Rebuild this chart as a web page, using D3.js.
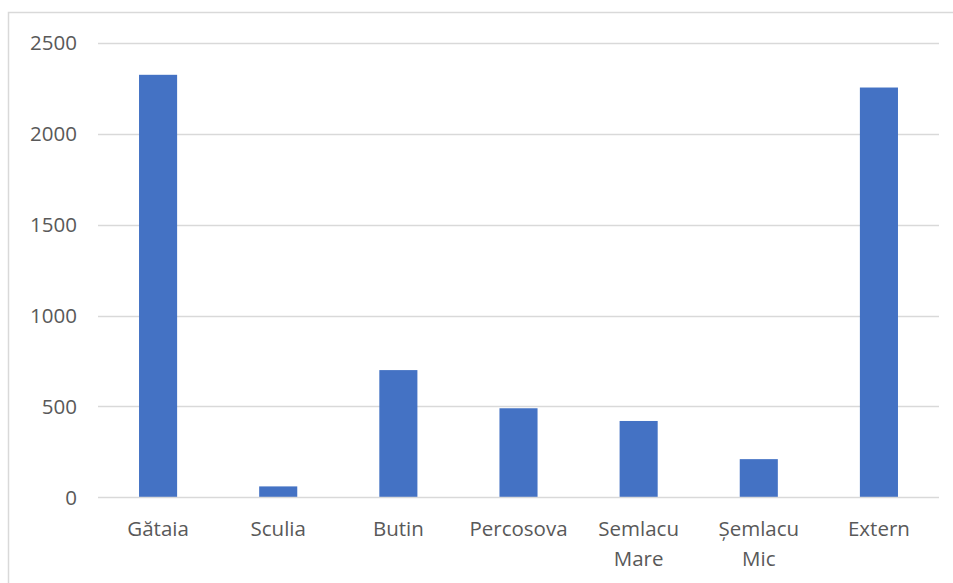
<!DOCTYPE html>
<html>
<head>
<meta charset="utf-8">
<script src="https://cdn.jsdelivr.net/npm/d3@7"></script>
<style>
  html, body { margin: 0; padding: 0; background: #fff; }
  svg { display: block; }
  .tick-label { font-family: "Open Sans", "Noto Sans", sans-serif; font-size: 20.5px; fill: #595959; }
</style>
</head>
<body>
<svg id="chart" width="953" height="583"></svg>
<script>
// Locality names (multi-line labels split on "\n")
const categories = ["Gătaia", "Sculia", "Butin", "Percosova", "Semlacu\nMare", "Șemlacu\nMic", "Extern"];
// Values per locality
const values = [2325, 60, 700, 490, 420, 210, 2255];
// Y axis ticks
const yTicks = [0, 500, 1000, 1500, 2000, 2500];

const svg = d3.select("#chart");
const W = 953, H = 583;

// Chart area frame
svg.append("rect")
  .attr("x", 8.5).attr("y", 12.5)
  .attr("width", W + 10).attr("height", H + 10)
  .attr("fill", "#fff")
  .attr("stroke", "#d9d9d9").attr("stroke-width", 1.5);

const plot = { left: 98, right: 939, top: 43, bottom: 497.3 };

const x = d3.scaleBand()
  .domain(categories)
  .range([plot.left, plot.right])
  .paddingInner(0.683)
  .paddingOuter(0.3415);

const y = d3.scaleLinear()
  .domain([0, 2500])
  .range([plot.bottom, plot.top]);

// Horizontal gridlines
const grid = svg.append("g");
grid.selectAll("line")
  .data(yTicks.filter(t => t !== 0))
  .join("line")
  .attr("x1", plot.left).attr("x2", plot.right)
  .attr("y1", d => Math.round(y(d)) + 0.5).attr("y2", d => Math.round(y(d)) + 0.5)
  .attr("stroke", "#d9d9d9").attr("stroke-width", 1.3);

// Y axis labels
const yAxis = d3.axisLeft(y).tickValues(yTicks).tickFormat(d3.format("d")).tickSize(0).tickPadding(0);
const yg = svg.append("g").attr("transform", "translate(77,0)").call(yAxis);
yg.select(".domain").remove();
yg.selectAll("text").attr("class", "tick-label").attr("dy", "0.34em");

// Bars
svg.append("g").selectAll("rect")
  .data(categories.map((c, i) => ({ c, v: values[i] })))
  .join("rect")
  .attr("x", d => x(d.c))
  .attr("width", x.bandwidth())
  .attr("y", d => y(d.v))
  .attr("height", d => y(0) - y(d.v))
  .attr("fill", "#4472c4");

// Baseline
svg.append("line")
  .attr("x1", plot.left).attr("x2", plot.right)
  .attr("y1", Math.round(y(0)) + 0.5).attr("y2", Math.round(y(0)) + 0.5)
  .attr("stroke", "#d9d9d9").attr("stroke-width", 1.5);

// Category labels
const xg = svg.append("g");
categories.forEach(c => {
  const t = xg.append("text")
    .attr("class", "tick-label")
    .attr("text-anchor", "middle")
    .attr("x", x(c) + x.bandwidth() / 2)
    .attr("y", 536);
  c.split("\n").forEach((line, i) => {
    t.append("tspan")
      .attr("x", x(c) + x.bandwidth() / 2)
      .attr("dy", i === 0 ? 0 : 30)
      .text(line);
  });
});
</script>
</body>
</html>
